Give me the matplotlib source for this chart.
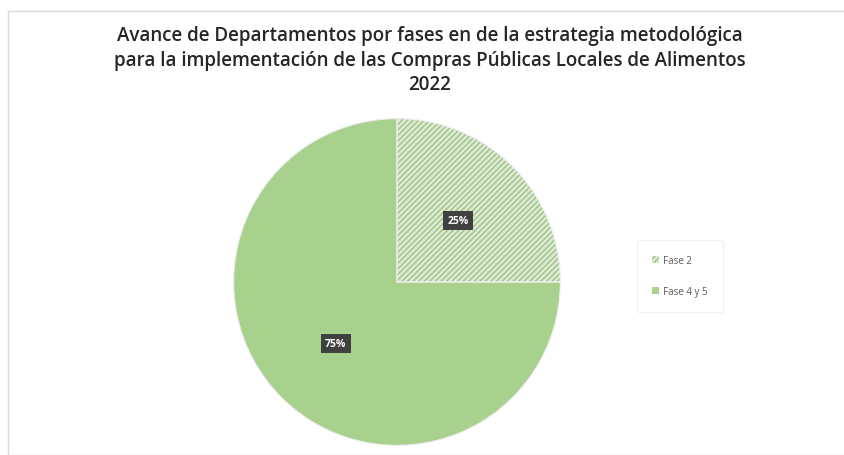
import matplotlib.pyplot as plt
from matplotlib.patches import Rectangle

# data
fases = ["Fase 2", "Fase 4 y 5"]
porcentajes = [25, 75]
titulo = ("Avance de Departamentos por fases en de la estrategia metodológica\n"
          "para la implementación de las Compras Públicas Locales de Alimentos\n"
          "2022")

plt.rcParams['font.family'] = ['Open Sans', 'DejaVu Sans']

fig = plt.figure(figsize=(8.44, 4.56), dpi=100)
fig.patches.append(Rectangle((8 / 844, 0), 1, 1 - 12 / 456, transform=fig.transFigure,
                             fill=False, edgecolor="#d9d9d9", linewidth=1))

fig.text(430 / 844, 1 - 61 / 456, titulo, ha="center", va="center",
         fontsize=13.5, fontweight="semibold", color="#262626", linespacing=1.3)

ax = fig.add_axes([232 / 844, 8 / 456, 330 / 844, 330 / 456])
wedges, texts, autotexts = ax.pie(
    porcentajes, labels=None, startangle=90, counterclock=False,
    colors=["#dfead5", "#a9d18e"], autopct="%1.0f%%", pctdistance=0.53,
    wedgeprops=dict(linewidth=0), textprops=dict(color="white", fontsize=7.5, fontweight="bold"))
wedges[0].set_hatch("//////")
wedges[0].set_edgecolor("#9cc283")
# outline
ax.pie(porcentajes, startangle=90, counterclock=False, colors=["none", "none"],
       wedgeprops=dict(linewidth=0.8, edgecolor="#eeeeee"))
for t in autotexts:
    t.set_bbox(dict(boxstyle="square,pad=0.4", facecolor="#404040", edgecolor="none"))
ax.set_aspect("equal")
ax.set_xlim(-1.01, 1.01)
ax.set_ylim(-1.01, 1.01)

leg = fig.legend(wedges, fases, loc="center", bbox_to_anchor=(680 / 844, 1 - 277 / 456),
                 fontsize=7, frameon=True, handlelength=0.7, handleheight=0.7,
                 labelspacing=2.0, borderpad=1.6, handletextpad=0.4, borderaxespad=0)
leg.get_frame().set_edgecolor("#eeeeee")
leg.get_frame().set_linewidth(0.8)
for t in leg.get_texts():
    t.set_color("#595959")

fig.savefig("out.png", dpi=100)
